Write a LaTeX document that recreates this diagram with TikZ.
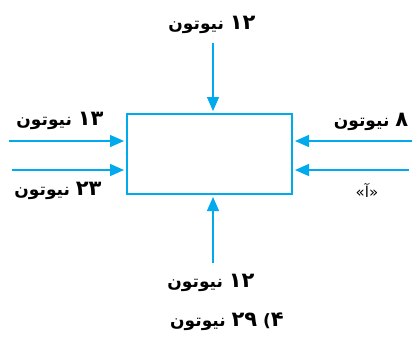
\documentclass[tikz,border=0pt]{standalone}
\usepackage{fontspec}
\newfontfamily\farsi[Script=Arabic]{DejaVu Sans}
\newfontfamily\plainsans{DejaVu Sans}
\TeXXeTstate=1
\usepackage{tikz}
\usetikzlibrary{positioning,calc,arrows.meta}
\definecolor{forcecyan}{RGB}{0,170,236}
\newcommand\fnum[1]{\beginL{\fontsize{21}{21}\selectfont #1}\endL}

\begin{document}
\begin{tikzpicture}[
    x=1pt, y=-1pt,
    box/.style={rectangle, draw=forcecyan, line width=1.4pt, minimum width=165pt, minimum height=80pt, inner sep=0pt, outer sep=0pt},
    force/.style={draw=forcecyan, line width=1.4pt, -{Triangle[length=14pt,width=12pt]}, shorten >=3pt},
    lbl/.style={inner sep=0pt, font=\farsi\bfseries\fontsize{17}{19}\selectfont},
    tag/.style={inner sep=0pt, font=\farsi\fontsize{15}{17}\selectfont}
]
    \useasboundingbox (0,0) rectangle (412,338);

    \node[box] (block) at (209.5,154) {};

    % force labels
    \node[lbl] (Ftop) at (212,25) {\beginR\fnum{۱۲} نیوتون\endR};
    \node[lbl] (Fbot) at (211,283) {\beginR\fnum{۱۲} نیوتون\endR};
    \node[lbl] (Fleft1) at (60,121) {\beginR\fnum{۱۳} نیوتون\endR};
    \node[lbl] (Fleft2) at (58,191) {\beginR\fnum{۲۳} نیوتون\endR};
    \node[lbl] (Fright1) at (371,122) {\beginR\fnum{۸} نیوتون\endR};
    \node[tag] (Fright2) at (367,190) {\beginR«آ»\endR};
    \node[lbl] (answer) at (227,322) {\beginR\fnum{۴}{\plainsans(}\ \fnum{۲۹} نیوتون\endR};

    % arrow tails
    \coordinate (Ttop) at (213,43);
    \coordinate (Tbot) at (213,263);
    \coordinate (Tleft1) at (9,141);
    \coordinate (Tleft2) at (12,170);
    \coordinate (Tright1) at (412,141);
    \coordinate (Tright2) at (409,170);

    \draw[force] (Ttop) -- (Ttop |- block.north);
    \draw[force] (Tbot) -- (Tbot |- block.south);
    \foreach \i in {1,2} {
        \draw[force] (Tleft\i) -- (Tleft\i -| block.west);
        \draw[force] (Tright\i) -- (Tright\i -| block.east);
    }

\end{tikzpicture}
\end{document}
